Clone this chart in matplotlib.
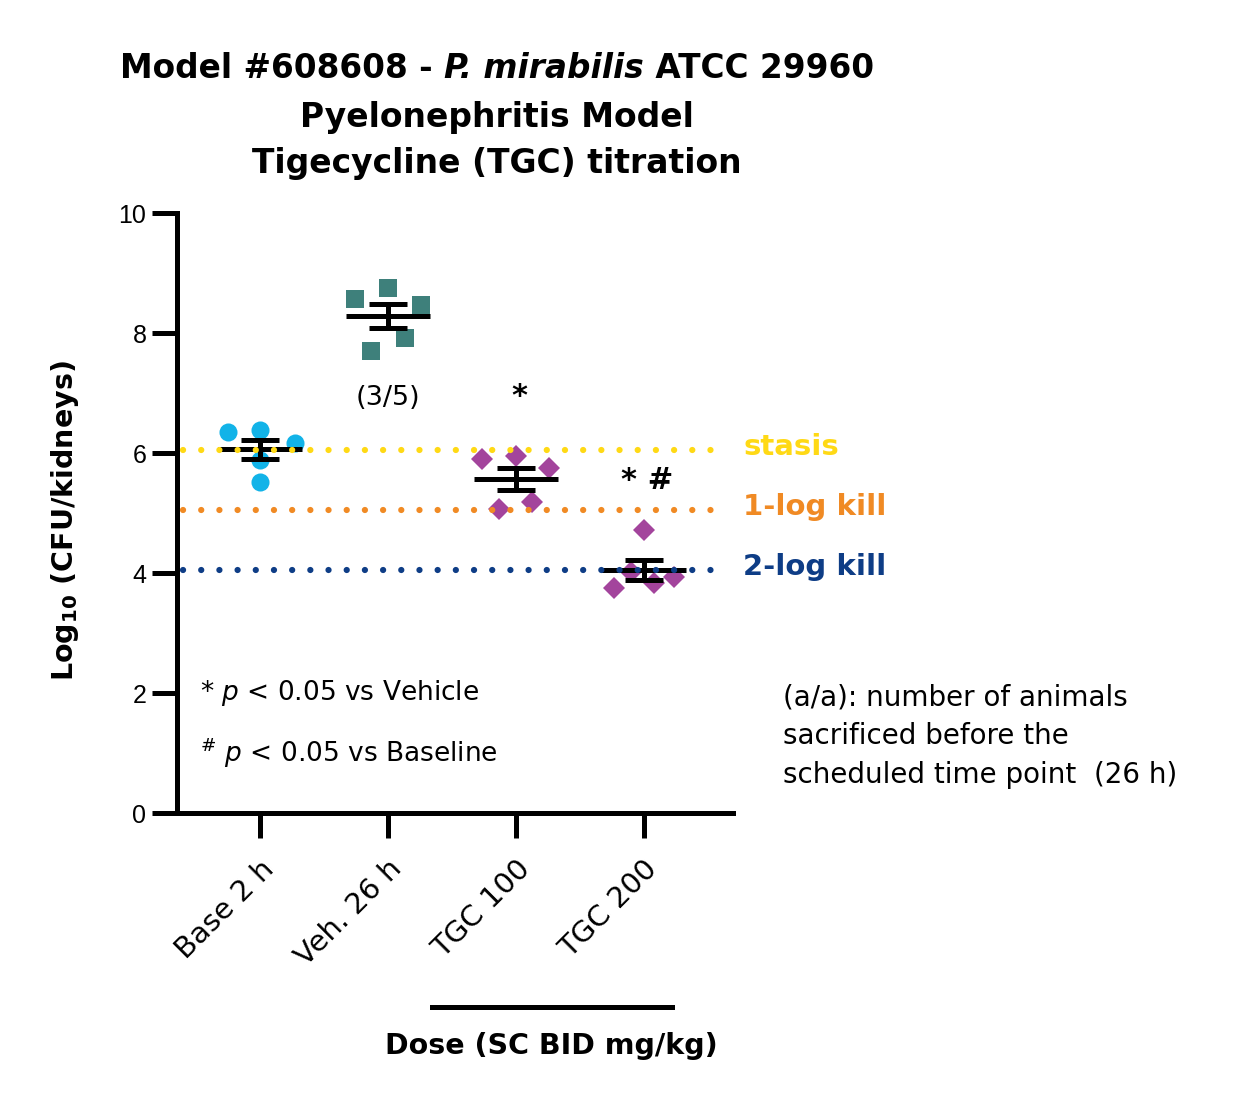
import numpy as np
import matplotlib
matplotlib.use("Agg")
import matplotlib.pyplot as plt

plt.rcParams['font.family'] = ['DejaVu Sans']
plt.rcParams['mathtext.default'] = 'regular'

# groups and individual animal values (log10 CFU/kidneys)
groups = ['Base 2 h', 'Veh. 26 h', 'TGC 100', 'TGC 200']
base_2h = [6.35, 6.38, 6.17, 5.88, 5.52]
veh_26h = [8.57, 8.75, 8.47, 7.92, 7.70]
tgc_100 = [5.90, 5.95, 5.75, 5.18, 5.07]
tgc_200 = [4.72, 3.75, 3.83, 3.93, 4.02]
values = [base_2h, veh_26h, tgc_100, tgc_200]

# horizontal spread of the points within each column
offsets = [
    [-0.25, 0.0, 0.27, 0.0, 0.0],
    [-0.26, 0.0, 0.26, 0.13, -0.13],
    [-0.26, 0.0, 0.26, 0.13, -0.13],
    [0.0, -0.23, 0.08, 0.24, -0.10],
]

markers = ['o', 's', 'D', 'D']
colors = ['#12B3E8', '#3E807B', '#A3449C', '#A3449C']
msizes = [13, 13, 11.5, 11.5]

# reference lines (stasis, 1-log, 2-log kill)
ref_levels = [6.05, 5.05, 4.05]
ref_labels = ['stasis', '1-log kill', '2-log kill']
ref_colors = ['#FFD915', '#F08A24', '#0E3D86']

sig_marks = ['', '', '*', '* #']
sig_y = [None, None, 6.95, 5.55]
sacrificed = ['', '(3/5)', '', '']

fig = plt.figure(figsize=(12.43, 11.09), dpi=100)
ax = fig.add_axes([0.1424, 0.2669, 0.4473, 0.5410])

x = np.arange(len(groups))
for i, vals in enumerate(values):
    vals = np.array(vals)
    ax.plot(x[i] + np.array(offsets[i]), vals, linestyle='none',
            marker=markers[i], color=colors[i], markersize=msizes[i],
            markeredgewidth=0, zorder=2)
    mean = vals.mean()
    sem = vals.std(ddof=1) / np.sqrt(len(vals))
    ax.plot([x[i] - 0.33, x[i] + 0.33], [mean, mean], color='black', lw=3.6,
            solid_capstyle='butt', zorder=3)
    ax.errorbar(x[i], mean, yerr=sem, fmt='none', ecolor='black',
                elinewidth=3.6, capsize=14, capthick=3.6, zorder=3)
    if sig_marks[i]:
        ax.text(x[i] + 0.03, sig_y[i], sig_marks[i], ha='center', va='center',
                fontsize=22, fontweight='bold', zorder=4)
    if sacrificed[i]:
        ax.text(x[i], 6.92, sacrificed[i], ha='center', va='center',
                fontsize=19.5)

for lvl, lab, col in zip(ref_levels, ref_labels, ref_colors):
    ax.plot([-0.6, 3.62], [lvl, lvl], color=col, lw=4.5,
            linestyle=(0, (0.01, 2.9)), dash_capstyle='round', zorder=5,
            clip_on=False)
    ax.text(3.78, lvl + 0.05, lab, color=col, fontsize=21, fontweight='bold',
            ha='left', va='center', clip_on=False)

ax.text(-0.47, 2.0, '* $\\it{p}$ < 0.05 vs Vehicle', fontsize=19,
        ha='left', va='center')
ax.text(-0.47, 1.0, '$^{\\#}$ $\\it{p}$ < 0.05 vs Baseline', fontsize=19,
        ha='left', va='center')

ax.set_xlim(-0.65, 3.70)
ax.set_ylim(0, 10)
ax.set_yticks([0, 2, 4, 6, 8, 10])
ax.set_yticklabels(['0', '2', '4', '6', '8', '10'], family='Liberation Sans',
                   fontsize=18)
ax.set_xticks(x)
ax.set_xticklabels(groups, rotation=45, ha='right', rotation_mode='anchor',
                   fontsize=21)
ax.tick_params(axis='y', width=3.6, length=18, pad=4)
ax.tick_params(axis='x', width=3.6, length=18, pad=12)
for side in ['top', 'right']:
    ax.spines[side].set_visible(False)
for side in ['left', 'bottom']:
    ax.spines[side].set_linewidth(3.6)
    ax.spines[side].set_capstyle('projecting')

ax.set_ylabel('Log$_{10}$ (CFU/kidneys)', fontsize=20.5, fontweight='bold')
ax.yaxis.set_label_coords(-0.173, 0.488)

# dose bracket and label
fig.add_artist(plt.Line2D([432 / 1243, 672 / 1243], [1 - 1007 / 1109] * 2,
                          color='black', lw=3.6))
fig.text(551 / 1243, 1 - 1046 / 1109, 'Dose (SC BID mg/kg)', fontsize=20.5,
         fontweight='bold', ha='center', va='center')

# note on the right
fig.text(783 / 1243, 1 - 736 / 1109,
         '(a/a): number of animals\nsacrificed before the\nscheduled time point  (26 h)',
         fontsize=20, ha='left', va='center', linespacing=1.48)

# title, first line has an italic species name
cx = 497 / 1243
parts = [('Model #608608 - ', 'normal'), ('P. mirabilis', 'italic'),
         (' ATCC 29960', 'normal')]
texts = [fig.text(0, 1 - 68 / 1109, s, fontsize=23.6, fontweight='bold',
                  style=st, ha='left', va='center') for s, st in parts]
fig.canvas.draw()
r = fig.canvas.get_renderer()
widths = [t.get_window_extent(r).width / fig.bbox.width for t in texts]
start = cx - sum(widths) / 2
for t, w in zip(texts, widths):
    t.set_x(start)
    start += w
fig.text(cx, 1 - 117 / 1109, 'Pyelonephritis Model', fontsize=23.8,
         fontweight='bold', ha='center', va='center')
fig.text(cx, 1 - 164 / 1109, 'Tigecycline (TGC) titration', fontsize=23.8,
         fontweight='bold', ha='center', va='center')

fig.savefig('out.png', dpi=100)
